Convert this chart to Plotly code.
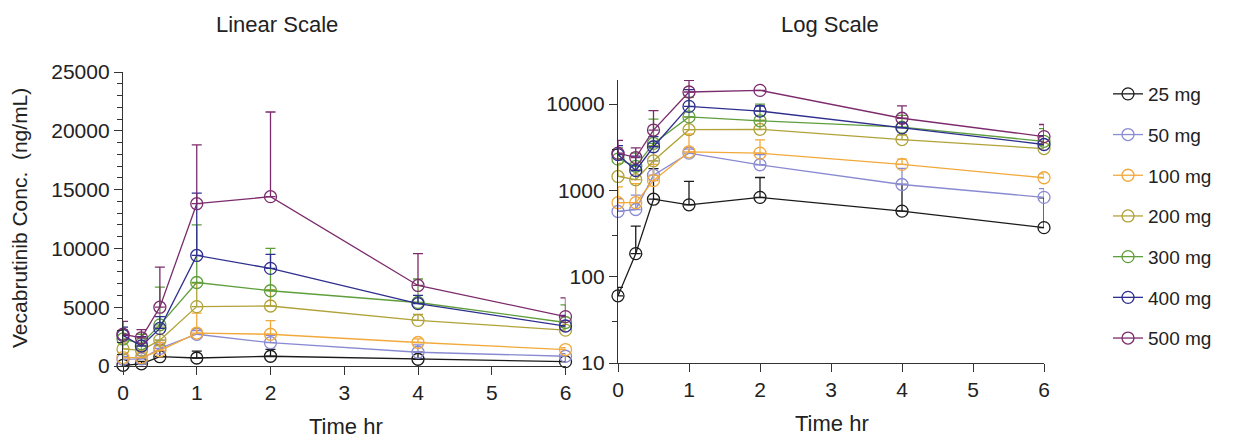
import math
import plotly.graph_objects as go

# ---- data ----
times = [0, 0.25, 0.5, 1, 2, 4, 6]
doses = ["25 mg", "50 mg", "100 mg", "200 mg", "300 mg", "400 mg", "500 mg"]

mean_25 = [60, 185, 790, 680, 830, 575, 370]
sd_25 = [15, 200, 1000, 590, 580, 600, 450]
mean_50 = [570, 600, 1500, 2700, 1980, 1170, 830]
sd_50 = [230, 280, 700, 300, 620, 630, 220]
mean_100 = [720, 720, 1300, 2800, 2700, 2000, 1400]
sd_100 = [380, 480, 700, 1700, 1150, 300, 150]
mean_200 = [1450, 1330, 2200, 5050, 5100, 3880, 3050]
sd_200 = [600, 400, 1100, 2000, 1400, 500, 250]
mean_300 = [2300, 1900, 3500, 7100, 6400, 5400, 3700]
sd_300 = [800, 800, 3200, 4900, 3600, 2000, 1500]
mean_400 = [2600, 1700, 3200, 9400, 8300, 5300, 3400]
sd_400 = [700, 800, 1000, 5300, 1200, 700, 900]
mean_500 = [2700, 2400, 5000, 13800, 14400, 6850, 4200]
sd_500 = [1100, 700, 3400, 5000, 7200, 2700, 1600]

means = [mean_25, mean_50, mean_100, mean_200, mean_300, mean_400, mean_500]
sds = [sd_25, sd_50, sd_100, sd_200, sd_300, sd_400, sd_500]
colors = ["#1a1a1a", "#8a8ad2", "#f2a93b", "#b0a238", "#5f9e3c", "#2e2e8e", "#7c2c6c"]

lin_ticks = [0, 5000, 10000, 15000, 20000, 25000]
log_ticks = [10, 100, 1000, 10000]
x_ticks = [0, 1, 2, 3, 4, 5, 6]

FONT = "Liberation Sans, Arial, sans-serif"
OFF = 8  # default page body margin
W, H = 1241 - OFF, 441 - OFF
LOG_TOP = 19000


def px(x):
    return (x - OFF) / W


def py(y):
    return 1 - (y - OFF) / H


fig = go.Figure()
for i, (name, m, s, c) in enumerate(zip(doses, means, sds, colors)):
    for ax in ("1", "2"):
        if ax == "2":
            # error bars whose tip lies above the log axis are not drawn
            err = [e if (v + e) <= LOG_TOP else 0 for v, e in zip(m, s)]
        else:
            err = s
        fig.add_trace(go.Scatter(
            x=times, y=m, name=name, legendgroup=name, showlegend=(ax == "1"),
            xaxis="x" if ax == "1" else "x2", yaxis="y" if ax == "1" else "y2",
            mode="lines+markers",
            line=dict(color=c, width=1.3),
            marker=dict(symbol="circle-open", size=12, color=c, line=dict(color=c, width=1.3)),
            error_y=dict(type="data", array=err, arrayminus=[0] * len(err), symmetric=False,
                         color=c, thickness=1.3, width=5),
            cliponaxis=False,
        ))

axis_common = dict(showline=True, linecolor="#333333", linewidth=1.3, ticks="outside",
                   ticklen=8, tickwidth=1.3, tickcolor="#333333", showgrid=False,
                   zeroline=False, automargin=False,
                   tickfont=dict(family=FONT, size=21, color="#222222"))

fig.update_layout(
    width=W, height=H,
    margin=dict(l=0, r=0, t=0, b=0, autoexpand=False),
    plot_bgcolor="white", paper_bgcolor="white",
    font=dict(family=FONT, color="#222222"),
    xaxis=dict(domain=[px(123), px(565.5)], range=[0, 6], tickvals=x_ticks, anchor="y", **axis_common),
    yaxis=dict(domain=[py(366), py(72)], range=[0, 25000], tickvals=lin_ticks,
               ticktext=[str(v) for v in lin_ticks], anchor="x",
               minor=dict(dtick=1000, ticks="outside", ticklen=5, tickcolor="#333333", tickwidth=1.2),
               **axis_common),
    xaxis2=dict(domain=[px(618), px(1044)], range=[0, 6], tickvals=x_ticks, anchor="y2", **axis_common),
    yaxis2=dict(domain=[py(363), py(80)], type="log", range=[1, math.log10(LOG_TOP)],
                tickvals=log_ticks, ticktext=[str(v) for v in log_ticks], anchor="x2",
                minor=dict(tickvals=[30, 300, 3000], ticks="outside", ticklen=5,
                           tickcolor="#333333", tickwidth=1.2),
                **axis_common),
    legend=dict(x=px(1108), y=py(75), xanchor="left", yanchor="top",
                font=dict(family=FONT, size=19, color="#222222"),
                tracegroupgap=13, itemwidth=30, bgcolor="rgba(0,0,0,0)"),
    showlegend=True,
)

ann = [
    dict(text="Linear Scale", x=277, y=24, size=22),
    dict(text="Log Scale", x=830, y=24, size=22),
    dict(text="Time hr", x=346, y=426, size=22),
    dict(text="Time hr", x=832, y=423, size=22),
]
for a in ann:
    fig.add_annotation(text=a["text"], x=px(a["x"]), y=py(a["y"]), xref="paper", yref="paper",
                       showarrow=False, xanchor="center", yanchor="middle",
                       font=dict(family=FONT, size=a["size"], color="#222222"))
fig.add_annotation(text="Vecabrutinib Conc.  (ng/mL)", x=px(19), y=py(218), xref="paper", yref="paper",
                   showarrow=False, textangle=-90, xanchor="center", yanchor="middle",
                   font=dict(family=FONT, size=21, color="#222222"))

fig.write_html("out.html")
